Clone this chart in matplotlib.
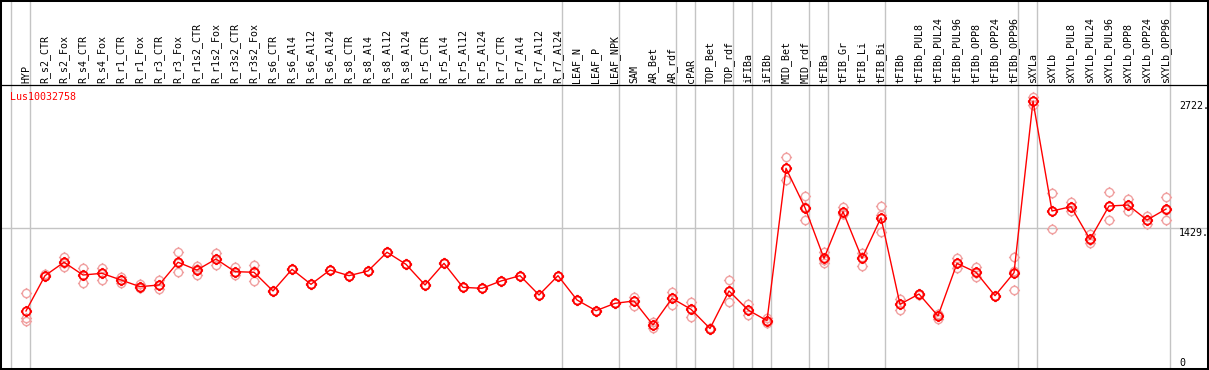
import matplotlib
matplotlib.use("Agg")
import matplotlib.pyplot as plt
from matplotlib.path import Path
from matplotlib.patches import Rectangle
import numpy as np

categories = ["HYP", "R_s2_CTR", "R_s2_Fox", "R_s4_CTR", "R_s4_Fox", "R_r1_CTR", "R_r1_Fox",
              "R_r3_CTR", "R_r3_Fox", "R_r1s2_CTR", "R_r1s2_Fox", "R_r3s2_CTR", "R_r3s2_Fox",
              "R_s6_CTR", "R_s6_Al4", "R_s6_Al12", "R_s6_Al24", "R_s8_CTR", "R_s8_Al4",
              "R_s8_Al12", "R_s8_Al24", "R_r5_CTR", "R_r5_Al4", "R_r5_Al12", "R_r5_Al24",
              "R_r7_CTR", "R_r7_Al4", "R_r7_Al12", "R_r7_Al24", "LEAF_N", "LEAF_P", "LEAF_NPK",
              "SAM", "AR_Bet", "AR_rdf", "cPAR", "TOP_Bet", "TOP_rdf", "iFIBa", "iFIBb",
              "MID_Bet", "MID_rdf", "tFIBa", "tFIB_Gr", "tFIB_Li", "tFIB_Bi", "tFIBb",
              "tFIBb_PUL8", "tFIBb_PUL24", "tFIBb_PUL96", "tFIBb_OPP8", "tFIBb_OPP24",
              "tFIBb_OPP96", "sXYLa", "sXYLb", "sXYLb_PUL8", "sXYLb_PUL24", "sXYLb_PUL96",
              "sXYLb_OPP8", "sXYLb_OPP24", "sXYLb_OPP96"]

means = [582, 942, 1079, 949, 966, 898, 830, 847, 1079, 1000, 1112, 983, 977,
         786, 1007, 854, 1000, 942, 990, 1181, 1058, 847, 1068, 823, 813,
         888, 942, 745, 942, 694, 585, 660,
         684, 439, 711, 599, 403, 786, 592, 483,
         2038, 1636, 1119, 1595, 1119, 1534, 650,
         755, 531, 1068, 977, 738, 972,
         2722, 1602, 1646, 1313, 1653, 1663, 1510, 1622]

replicates = [
    [762, 507, 483], [955, 935, 936], [1136, 1034, 1067], [1017, 864, 949], [1023, 898, 966],
    [931, 864, 898], [854, 813, 830], [898, 806, 847], [1186, 982, 1071], [1040, 949, 1010],
    [1170, 1051, 1112], [1033, 949, 979], [1051, 888, 990],
    [786] * 3, [1007] * 3, [854] * 3, [1000] * 3, [942] * 3, [990] * 3, [1181] * 3,
    [1058] * 3, [847] * 3, [1068] * 3, [823] * 3, [813] * 3, [888] * 3, [942] * 3,
    [745] * 3, [942] * 3, [694] * 3, [585] * 3, [660] * 3,
    [727, 632, 684], [472, 405, 439], [779, 643, 711], [676, 523, 599], [410, 400, 400],
    [898, 673, 786], [653, 536, 587], [507, 456, 483],
    [2149, 1918, 2040], [1754, 1510, 1642], [1186, 1074, 1097], [1645, 1571, 1571],
    [1176, 1043, 1137], [1652, 1384, 1561], [701, 592, 656],
    [760, 750, 755], [551, 497, 544], [1119, 1017, 1068], [1033, 925, 969], [738] * 3,
    [1136, 796, 985],
    [2761, 2683, 2722], [1782, 1418, 1607], [1697, 1602, 1642], [1364, 1272, 1306],
    [1792, 1510, 1658], [1724, 1602, 1663], [1554, 1466, 1510], [1742, 1510, 1617],
]

group_ends = [-1, 0, 28, 31, 34, 35, 37, 38, 39, 41, 42, 45, 52, 53, 60]
gene = "Lus10032758"
ytick_vals = [2722, 1429, 0]
ytick_labels = ["2722.", "1429.", "0"]

W, H = 1209, 370
fig = plt.figure(figsize=(W / 100, H / 100), dpi=100)
fig.patch.set_facecolor("white")

ppu = 0.098  # px per unit
top_px, bot_px, zero_px = 85, 369, 368
x0_px, step_px = 26, 19
ax = fig.add_axes([0, (H - bot_px) / H, 1, (bot_px - top_px) / H])
ax.set_xlim(-x0_px / step_px, (W - x0_px) / step_px)
ax.set_ylim((zero_px - bot_px) / ppu, (zero_px - top_px) / ppu)
ax.set_xticks([])
ax.set_yticks([])
for s in ["left", "right", "bottom"]:
    ax.spines[s].set_visible(False)
ax.spines["top"].set_color("black")
ax.spines["top"].set_linewidth(0.9)

gray = "#c4c4c4"
ext = bot_px / (bot_px - top_px)
for g in group_ends:
    ax.axvline(g + 3.7 / step_px, 0, ext, color=gray, lw=1.0, clip_on=False, zorder=1)
ax.axhline(1429, color=gray, lw=1.0, zorder=1)

# marker: circle with four short stubs
circ = Path.unit_circle()
verts = list(circ.vertices)
codes = list(circ.codes)
for dx, dy in [(1, 0), (-1, 0), (0, 1), (0, -1)]:
    verts += [(dx * 1.0, dy * 1.0), (dx * 1.35, dy * 1.35)]
    codes += [Path.MOVETO, Path.LINETO]
gear = Path(verts, codes)

x = np.arange(len(categories))
rep_color = "#f0a0a0"
for i, reps in enumerate(replicates):
    ax.plot([i] * len(reps), reps, linestyle="none", marker=gear, markersize=8,
            markerfacecolor="none", markeredgecolor=rep_color, markeredgewidth=1.0, zorder=2)
ax.plot(x, means, color="red", lw=1.0, zorder=3)
ax.plot(x, means, linestyle="none", marker=gear, markersize=8, markerfacecolor="none",
        markeredgecolor="red", markeredgewidth=1.3, zorder=4)

mono = "DejaVu Sans Mono"
lab_y = (bot_px - 83) / (bot_px - top_px)
for i, c in enumerate(categories):
    ax.text(i, lab_y, c, rotation=90, ha="center", va="bottom", fontsize=7.2,
            family=mono, transform=ax.get_xaxis_transform(), clip_on=False)

ax.text(10 / W, (bot_px - 97) / (bot_px - top_px), gene, color="red", fontsize=7.2,
        family=mono, ha="left", va="center", transform=ax.transAxes)

for v, lab in zip(ytick_vals, ytick_labels):
    ax.text(1179 / W, v, lab, fontsize=7.2, family=mono, ha="left",
            va="bottom" if v == 0 else "top", transform=ax.get_yaxis_transform())

fig.patches.append(Rectangle((0, 0), 1, 1, transform=fig.transFigure, fill=False,
                             edgecolor="black", linewidth=2.9, zorder=10))

fig.savefig("out.png", dpi=100)
